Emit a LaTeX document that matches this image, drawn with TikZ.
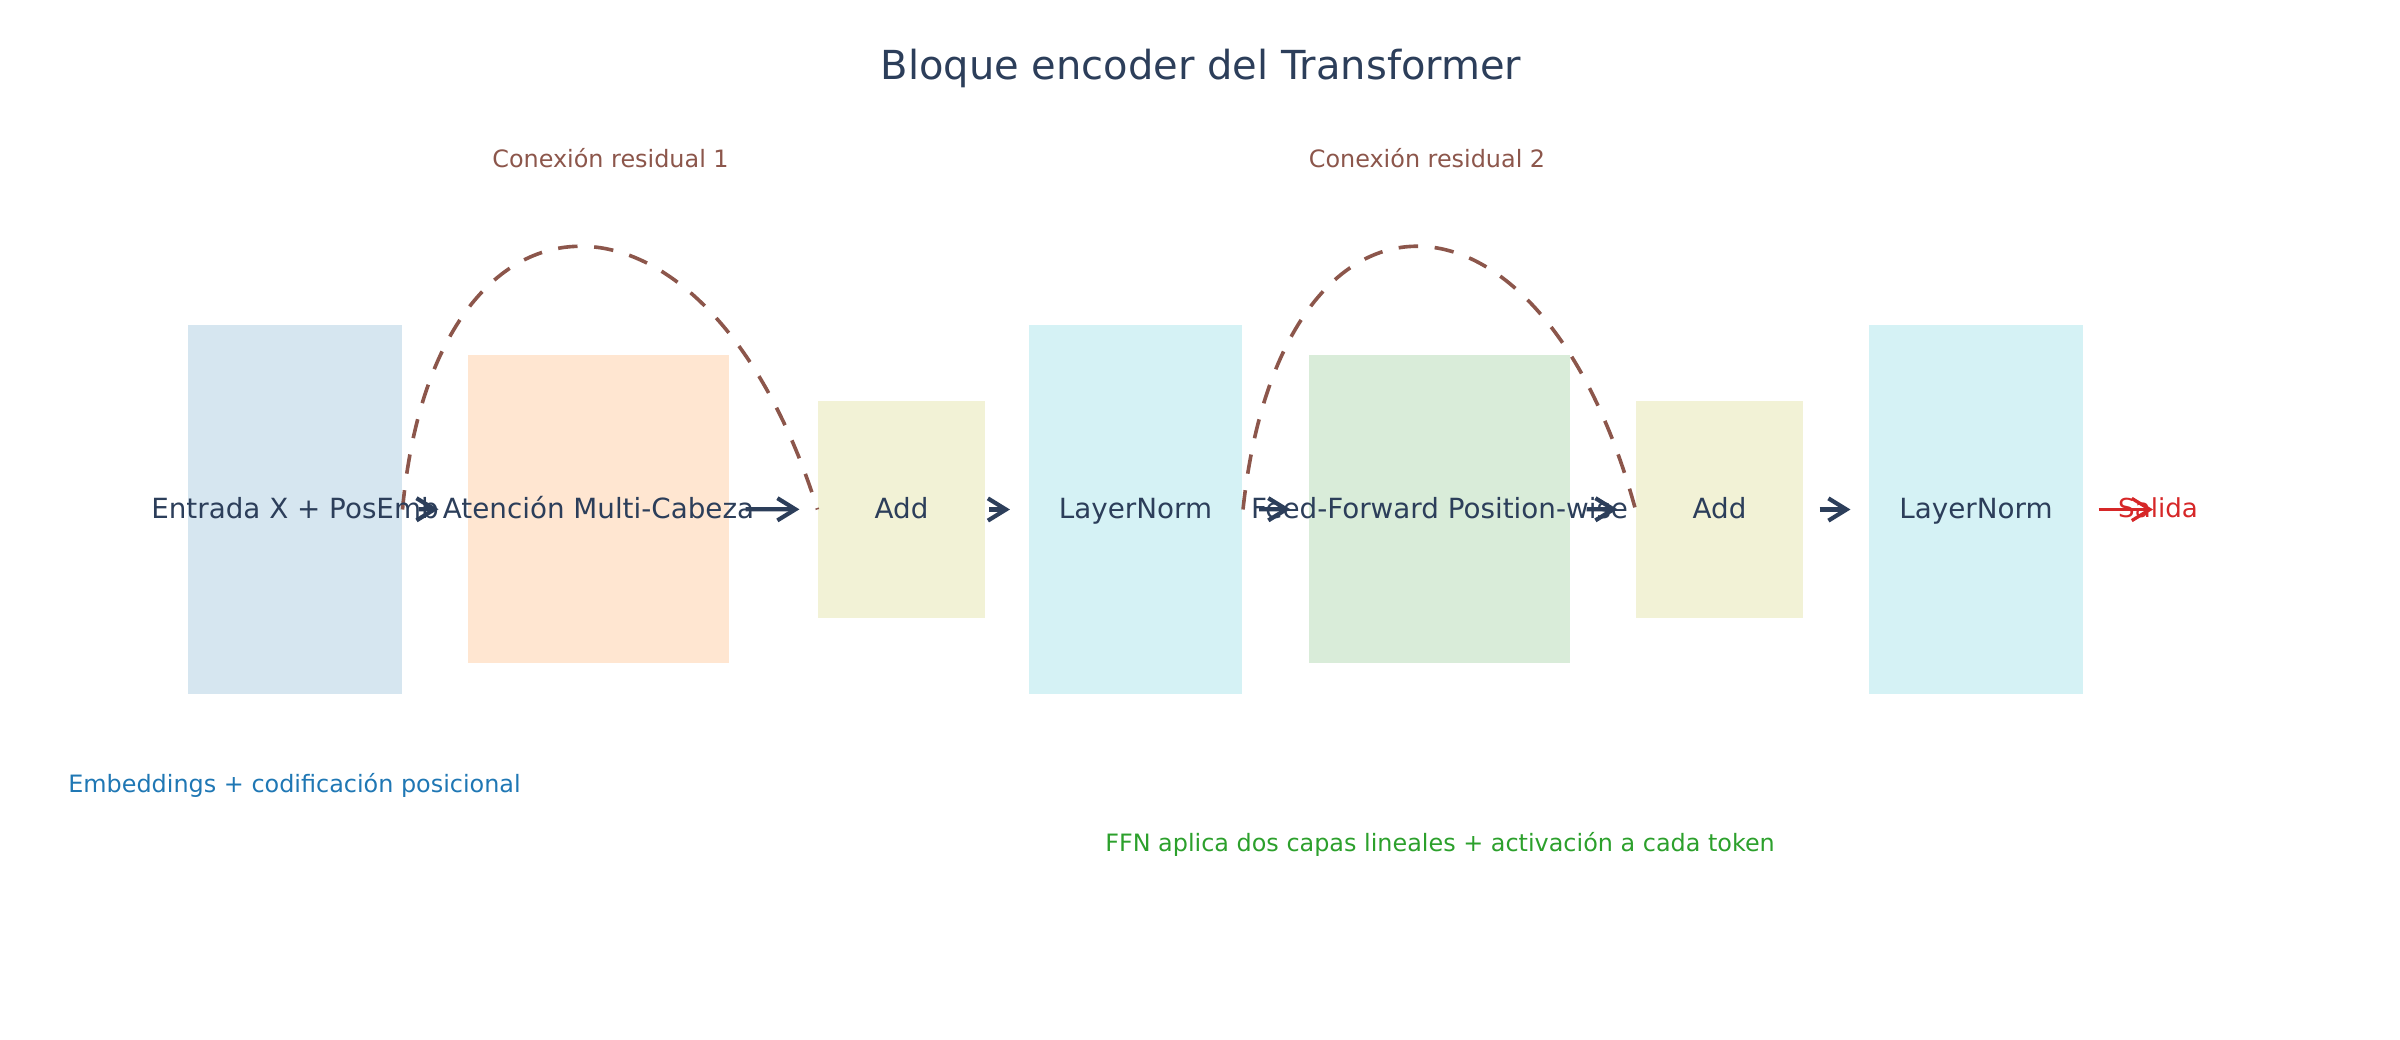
\documentclass[tikz,border=0pt]{standalone}
\usepackage{fontspec}
\setmainfont{DejaVu Sans}
\usetikzlibrary{arrows.meta}
\definecolor{tinta}{HTML}{2C3E5A}
\definecolor{marron}{HTML}{8C564B}
\definecolor{azul}{HTML}{1F77B4}
\definecolor{verde}{HTML}{2CA02C}
\definecolor{rojo}{HTML}{D62728}
\definecolor{fondoEmb}{RGB}{214,230,240}
\definecolor{fondoAtt}{RGB}{255,230,209}
\definecolor{fondoAdd}{RGB}{242,242,214}
\definecolor{fondoLN}{RGB}{213,242,245}
\definecolor{fondoFFN}{RGB}{217,236,217}

\begin{document}
\begin{tikzpicture}[x=0.36pt, y=-0.36pt,
    caja/.style={rectangle, inner sep=0pt},
    alta/.style={caja, minimum width=77pt, minimum height=132.8pt},
    media/.style={caja, minimum width=94pt, minimum height=110.9pt},
    baja/.style={caja, minimum width=60.1pt, minimum height=78.1pt},
    etiqueta/.style={anchor=base, yshift=-3.4pt, inner sep=0pt, text=tinta, font=\fontsize{10}{12}\selectfont},
    nota/.style={anchor=base, inner sep=0pt, font=\fontsize{8.6}{10}\selectfont},
    flecha/.style={-{Straight Barb[length=6.5pt,width=8pt]}, line width=1.5pt, draw=tinta, shorten <=5.8pt, shorten >=6.5pt},
    residual/.style={draw=marron, line width=1.3pt, dash pattern=on 7pt off 6pt}]
    \useasboundingbox (0,0) rectangle (2400,1040);

    % Titulo
    \node (titulo) [anchor=base, inner sep=0pt, text=tinta, font=\fontsize{14.4}{17}\selectfont] at (1201,80) {Bloque encoder del Transformer};

    % Bloques del encoder
    \node (emb) [alta, fill=fondoEmb] at (295,509.5) {};
    \node (att) [media, fill=fondoAtt] at (598.5,509) {};
    \node (add1) [baja, fill=fondoAdd] at (901.5,509.5) {};
    \node (ln1) [alta, fill=fondoLN] at (1135.5,509.5) {};
    \node (ffn) [media, fill=fondoFFN] at (1439.5,509) {};
    \node (add2) [baja, fill=fondoAdd] at (1719.5,509.5) {};
    \node (ln2) [alta, fill=fondoLN] at (1976,509.5) {};

    % Conexiones residuales
    \draw[residual] (emb.east) .. controls +(32,-351) and +(-110,-351) .. (add1.west);
    \draw[residual] (ln1.east) .. controls +(37,-351) and +(-96,-351) .. (add2.west);

    % Flechas de conexion
    \draw[flecha, shorten >=10.4pt] (emb) -- (att);
    \draw[flecha] (att) -- (add1);
    \draw[flecha, shorten <=1.4pt] (add1) -- (ln1);
    \draw[flecha] (ln1) -- (ffn);
    \draw[flecha] (ffn) -- (add2);
    \draw[flecha] (add2) -- (ln2);

    % Textos de los bloques
    \node (embT) [etiqueta] at (emb) {Entrada X + PosEmb};
    \node (attT) [etiqueta] at (att) {Atención Multi-Cabeza};
    \node (add1T) [etiqueta] at (add1) {Add};
    \node (ln1T) [etiqueta] at (ln1) {LayerNorm};
    \node (ffnT) [etiqueta] at (ffn) {Feed-Forward Position-wise};
    \node (add2T) [etiqueta] at (add2) {Add};
    \node (ln2T) [etiqueta] at (ln2) {LayerNorm};

    % Salida
    \node (salida) [nota, text=rojo, font=\fontsize{9.4}{11}\selectfont] at (2158,517) {Salida};
    \draw[flecha, draw=rojo, line width=1.2pt, shorten <=5.4pt, shorten >=1.8pt] (ln2.east) -- (ln2.east -| salida);

    % Notas
    \node (res1) [nota, text=marron] at (610.5,168) {Conexión residual 1};
    \node (res2) [nota, text=marron] at (1427,168) {Conexión residual 2};
    \node (embN) [nota, text=azul] at (294.5,792) {Embeddings + codificación posicional};
    \node (ffnN) [nota, text=verde] at (1440,851.7) {FFN aplica dos capas lineales + activación a cada token};
\end{tikzpicture}
\end{document}
